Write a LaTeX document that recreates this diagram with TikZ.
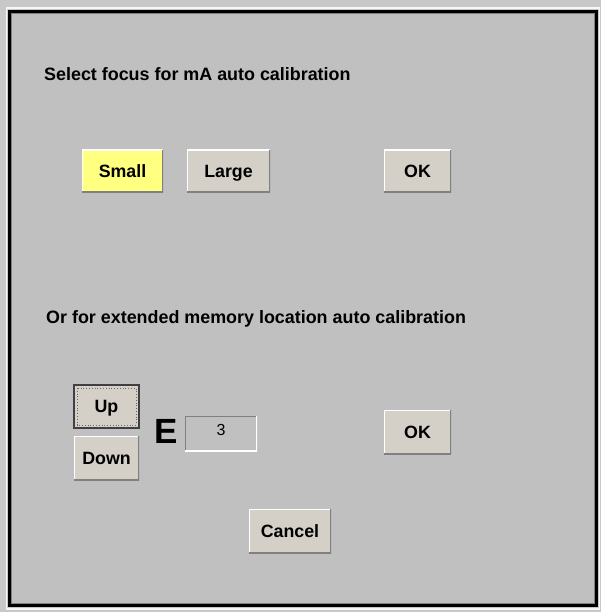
\documentclass[tikz,border=0pt]{standalone}
\usepackage{fontspec}
\setmainfont{Liberation Sans}
\usepackage{tikz}
\usetikzlibrary{positioning,calc}
\definecolor{panelgrey}{HTML}{C0C0C0}
\definecolor{margingrey}{HTML}{C8C8C8}
\definecolor{btnface}{HTML}{D4D0C8}
\definecolor{btnshade}{HTML}{808080}
\definecolor{hilite}{HTML}{FFFF80}
\begin{document}
\begin{tikzpicture}[x=1pt,y=-1pt,
  btn/.style={rectangle,fill=btnface,inner sep=0pt,text height=12.6pt,text depth=0pt,
    font=\fontsize{17.8}{20}\selectfont\bfseries,
    path picture={
      \draw[white,line width=2pt] (path picture bounding box.south west) -- (path picture bounding box.north west) -- (path picture bounding box.north east);
      \draw[btnshade,line width=3pt] (path picture bounding box.south west) -- (path picture bounding box.south east) -- (path picture bounding box.north east);}},
  sunken/.style={rectangle,fill=panelgrey,inner sep=0pt,
    path picture={
      \draw[btnshade,line width=2pt] (path picture bounding box.south west) -- (path picture bounding box.north west) -- (path picture bounding box.north east);
      \draw[white,line width=2pt] (path picture bounding box.south west) -- (path picture bounding box.south east) -- (path picture bounding box.north east);}},
  label text/.style={anchor=base west,inner sep=0pt,font=\fontsize{17.9}{20}\selectfont\bfseries}]
\useasboundingbox (0,0) rectangle (601,612);
\fill[margingrey] (0,0) rectangle (601,612);
\draw[white!85!margingrey,line width=1.5pt] (6.5,8) rectangle (599.5,609);
\fill[panelgrey] (9.5,11.3) rectangle (596.8,605.8);
\draw[btnshade,line width=1.2pt] (11.8,13.6) rectangle (594.5,603.5);
\draw[black,line width=3pt] (9.5,11.3) rectangle (596.8,605.8);
\begin{scope}
\node[label text] (focus) at (44,81) {Select focus for mA auto calibration};
\node[label text] (memory) at (46,323) {Or for extended memory location auto calibration};
\end{scope}
\begin{scope}[every node/.append style={btn}]
\node[fill=hilite,minimum width=81pt,minimum height=43pt] (small) at (122.5,171.5) {Small};
\node[minimum width=83pt,minimum height=43pt] (large) at (228.5,171.5) {Large};
\node[minimum width=67pt,minimum height=43pt] (ok1) at (417.5,171.5) {OK};
\node[minimum width=65pt,minimum height=43pt,draw=black!75,line width=2pt] (up) at (106.5,406.5) {Up};
\node[minimum width=65pt,minimum height=44pt] (down) at (106.5,458) {Down};
\node[minimum width=67pt,minimum height=44pt] (ok2) at (417.5,432) {OK};
\node[minimum width=82pt,minimum height=44pt] (cancel) at (290,531) {Cancel};
\end{scope}
\draw[black!60,dotted,line width=0.8pt] ([shift={(4pt,-4pt)}]up.north west) rectangle ([shift={(-4pt,4pt)}]up.south east);
\node[anchor=base,inner sep=0pt,font=\fontsize{35}{40}\selectfont\bfseries] (elabel) at (166,443) {E};
\node[sunken,minimum width=72pt,minimum height=35pt] (field) at (221,433.5) {};
\node[anchor=base,inner sep=0pt,font=\fontsize{16}{18}\selectfont] (value) at (field.center |- 0,435) {3};
\end{tikzpicture}
\end{document}
